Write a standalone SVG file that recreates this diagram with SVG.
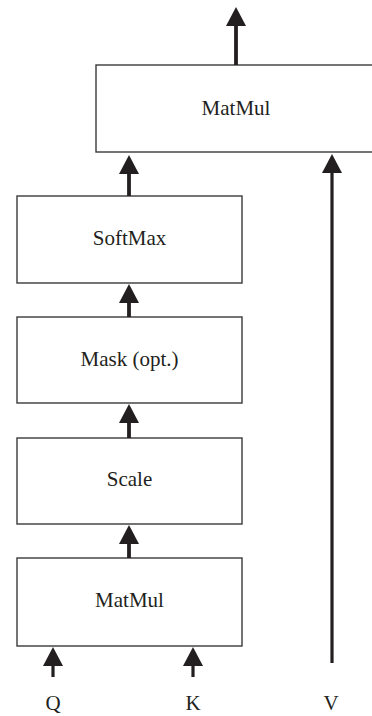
<svg xmlns="http://www.w3.org/2000/svg" width="372" height="716" viewBox="0 0 372 716">
  <style>
    .box { fill: #ffffff; stroke: #3a3a3a; stroke-width: 1.4; }
    .label { font-family: "Liberation Serif", "Times New Roman", serif; font-size: 21px; fill: #231f20; text-anchor: middle; }
    .wire { stroke: #231f20; stroke-width: 3.8; fill: none; }
    .wire-thin { stroke: #231f20; stroke-width: 3.2; fill: none; }
  </style>
  <defs>
    <marker id="head" markerUnits="userSpaceOnUse" markerWidth="19" markerHeight="20" viewBox="0 0 19 20" refX="1" refY="10" orient="auto">
      <path d="M0,0 L19,10 L0,20 Z" fill="#231f20"/>
    </marker>
  </defs>

  <g id="matmul-out">
    <rect class="box" x="96" y="65" width="300" height="87"/>
    <text class="label" x="236" y="115">MatMul</text>
  </g>
  <g id="softmax">
    <rect class="box" x="17" y="196" width="225" height="87"/>
    <text class="label" x="129.5" y="245">SoftMax</text>
  </g>
  <g id="mask">
    <rect class="box" x="17" y="317" width="225" height="86"/>
    <text class="label" x="129.5" y="366">Mask (opt.)</text>
  </g>
  <g id="scale">
    <rect class="box" x="17" y="438" width="225" height="86"/>
    <text class="label" x="129.5" y="486">Scale</text>
  </g>
  <g id="matmul-in">
    <rect class="box" x="17" y="558" width="225" height="88"/>
    <text class="label" x="129.5" y="607">MatMul</text>
  </g>
  <g id="input-q">
    <text class="label" x="53" y="710">Q</text>
  </g>
  <g id="input-k">
    <text class="label" x="193" y="710">K</text>
  </g>
  <g id="input-v">
    <text class="label" x="331" y="710">V</text>
  </g>

  <g id="connectors">
    <line class="wire" x1="236" y1="65" x2="236" y2="25" marker-end="url(#head)"/>
    <line class="wire" x1="129" y1="196" x2="129" y2="173" marker-end="url(#head)"/>
    <line class="wire" x1="129" y1="317" x2="129" y2="302" marker-end="url(#head)"/>
    <line class="wire" x1="129" y1="438" x2="129" y2="422" marker-end="url(#head)"/>
    <line class="wire" x1="129" y1="558" x2="129" y2="543" marker-end="url(#head)"/>
    <line class="wire-thin" x1="53" y1="677" x2="53" y2="665" marker-end="url(#head)"/>
    <line class="wire-thin" x1="193" y1="677" x2="193" y2="665" marker-end="url(#head)"/>
    <line class="wire-thin" x1="332" y1="663" x2="332" y2="172" marker-end="url(#head)"/>
  </g>
</svg>
